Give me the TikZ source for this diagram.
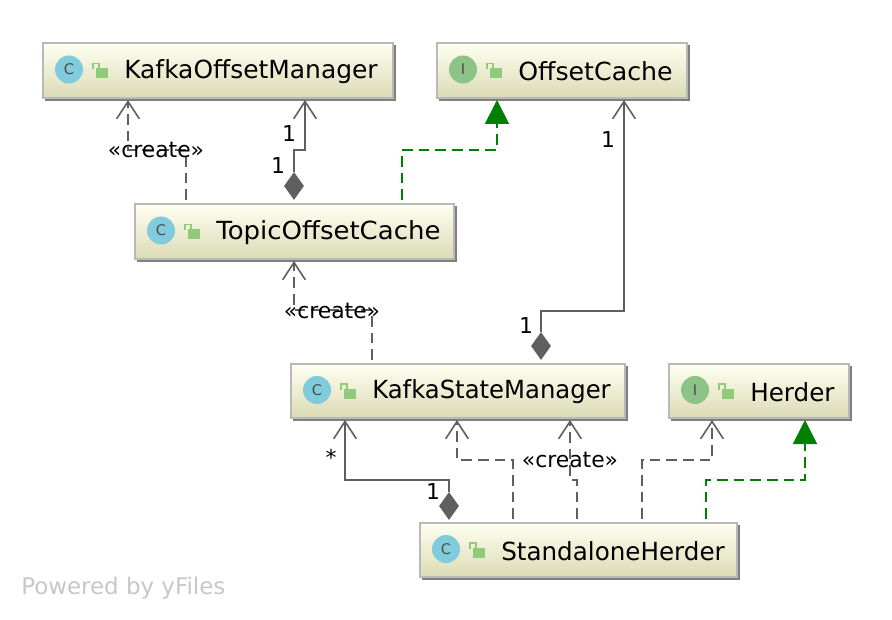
\documentclass[tikz,border=0pt]{standalone}
\usepackage{fontspec}
\setmainfont{DejaVu Sans}
\usetikzlibrary{calc,arrows.meta,shapes.geometric}
\definecolor{edgegray}{HTML}{5F5F5F}
\definecolor{boxline}{HTML}{B9B9B9}
\definecolor{boxshadow}{HTML}{7F7F7F}
\definecolor{boxtop}{HTML}{FFFFF2}
\definecolor{boxbottom}{HTML}{DBDBB5}
\definecolor{classblue}{HTML}{80CBDC}
\definecolor{ifacegreen}{HTML}{8CC488}
\definecolor{lockgreen}{HTML}{8FCB7A}
\definecolor{realgreen}{HTML}{008000}
\tikzset{
  x=0.75pt,y=-0.75pt,
  umlbox/.style={rectangle,draw=boxline,line width=1.5pt,top color=boxtop,bottom color=boxbottom,inner sep=0pt},
  boxname/.style={anchor=west,inner sep=0pt,font=\fontsize{18.7pt}{20pt}\selectfont,text=black},
  dep/.style={draw=edgegray,line width=1.35pt,dash pattern=on 8pt off 4.5pt,-{Straight Barb[length=13pt,width=17pt,line width=1.2pt]}},
  comp/.style={draw=edgegray,line width=1.5pt,-{Straight Barb[length=13pt,width=17pt,line width=1.2pt]}},
  real/.style={draw=realgreen,line width=1.35pt,dash pattern=on 8pt off 4.5pt,-{Triangle[length=18pt,width=18pt,fill=realgreen]}},
  diam/.style={diamond,fill=edgegray,draw=none,inner sep=0pt,minimum width=15pt,minimum height=21pt,aspect=0.7},
  lbl/.style={inner sep=0pt,font=\fontsize{16.4pt}{18pt}\selectfont,text=black},
  iconletter/.style={inner sep=0pt,font=\fontsize{11pt}{11pt}\selectfont,text=black!70},
}
% name, x1, y1, x2, y2, text, icon colour, letter, horizontal text scale
\newcommand{\umlclass}[9]{%
  \fill[boxshadow] (#2+2,#3+2) rectangle (#4+3,#5+3);
  \node[umlbox,minimum width=(#4-#2)*0.75pt,minimum height=(#5-#3)*0.75pt] (#1) at ({(#2+#4)/2},{(#3+#5)/2}) {};
  \fill[#7] (#2+26,{(#3+#5)/2-1}) circle[radius=14];
  \node[iconletter] (#1-icon) at (#2+26,{(#3+#5)/2-1}) {#8};
  \fill[lockgreen] (#2+53,{(#3+#5)/2-2}) rectangle (#2+65,{(#3+#5)/2+8});
  \draw[lockgreen,line width=1.3pt] (#2+50,{(#3+#5)/2-1}) -- (#2+50,{(#3+#5)/2-7}) -- (#2+56,{(#3+#5)/2-7}) -- (#2+56,{(#3+#5)/2-2});
  \node[boxname] (#1-name) at (#2+81,{(#3+#5)/2+1}) {\scalebox{#9}[1]{#6}};
}
\begin{document}
\begin{tikzpicture}
\useasboundingbox (0,0) rectangle (892,620);
\umlclass{kom}{43}{43}{393}{98}{KafkaOffsetManager}{classblue}{C}{1}
\umlclass{oc}{437}{43}{687}{98}{OffsetCache}{ifacegreen}{I}{1.013}
\umlclass{toc}{135}{204}{454}{259}{TopicOffsetCache}{classblue}{C}{1.042}
\umlclass{ksm}{291}{364}{625}{418}{KafkaStateManager}{classblue}{C}{0.975}
\umlclass{her}{669}{364}{849}{418}{Herder}{ifacegreen}{I}{0.988}
\umlclass{sh}{420}{523}{737}{577}{StandaloneHerder}{classblue}{C}{0.987}

% toc -> kom create
\draw[dep] ($(toc.north west)+(52,-3)$) |- (128,150) -- ($(kom.south west)+(86,1)$);
% toc composition kom
\node[diam] (d1) at (294,186) {};
\draw[comp] (d1.north) |- (305,150) -- ($(kom.south west)+(263,1)$);
% toc -> oc realization
\draw[real] ($(toc.north west)+(268,-3)$) |- (497,150) -- ($(oc.south west)+(61,1)$);
% ksm composition oc
\node[diam] (d2) at (541,346) {};
\draw[comp] (d2.north) |- (624,311) -- ($(oc.south west)+(188,1)$);
% ksm -> toc create
\draw[dep] ($(ksm.north west)+(82,-3)$) |- (294,310) -- ($(toc.south west)+(160,1)$);
% sh composition ksm
\node[diam] (d3) at (449,506) {};
\draw[comp] (d3.north) |- (345,480) -- ($(ksm.south west)+(55,1)$);
% sh -> ksm
\draw[dep] ($(sh.north west)+(94,-3)$) |- (457,460) -- ($(ksm.south west)+(167,1)$);
\draw[dep] ($(sh.north west)+(158,-3)$) |- (570,480) -- ($(ksm.south west)+(280,1)$);
% sh -> herder
\draw[dep] ($(sh.north west)+(223,-3)$) |- (712,460) -- ($(her.south west)+(44,1)$);
\draw[real] ($(sh.north west)+(287,-3)$) |- (805,480) -- ($(her.south west)+(137,1)$);

\node[lbl] (c1) at (156,150) {«create»};
\node[lbl] (c2) at (332,311) {«create»};
\node[lbl] (c3) at (570,460) {«create»};
\node[lbl] (n1) at (289,134) {1};
\node[lbl] (n2) at (278,166) {1};
\node[lbl] (n3) at (608,140) {1};
\node[lbl] (n4) at (526,326) {1};
\node[lbl] (n5) at (331,457) {*};
\node[lbl] (n6) at (433,492) {1};
\node[inner sep=0pt,anchor=west,text=black!22,font=\fontsize{17.2pt}{18pt}\selectfont] (yf) at (21,588.5) {Powered by yFiles};
\end{tikzpicture}
\end{document}
